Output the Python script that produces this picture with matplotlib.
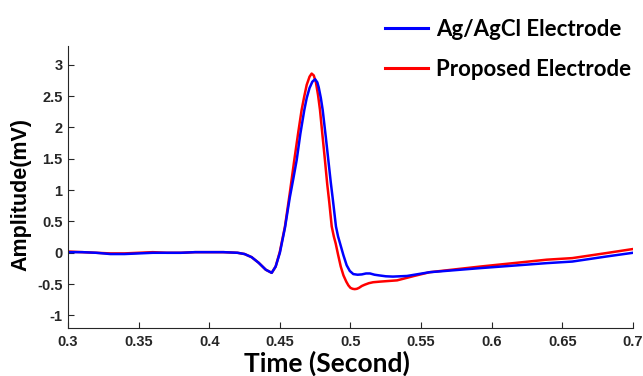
import matplotlib
matplotlib.use("Agg")
import matplotlib.pyplot as plt
from matplotlib.lines import Line2D

# Ag/AgCl reference electrode recording
t_agcl = [0.300, 0.310, 0.320, 0.330, 0.340, 0.350, 0.360, 0.370, 0.380, 0.390,
          0.400, 0.410, 0.420, 0.425, 0.430, 0.435, 0.440, 0.4442, 0.447, 0.450,
          0.4536, 0.457, 0.4595, 0.4619, 0.4645, 0.4673, 0.469, 0.471, 0.473,
          0.4749, 0.4765, 0.4775, 0.479, 0.4803, 0.4825, 0.4843, 0.486, 0.4875,
          0.4897, 0.4912, 0.4926, 0.495, 0.4973, 0.4995, 0.502, 0.505, 0.508,
          0.511, 0.5138, 0.517, 0.520, 0.525, 0.530, 0.540, 0.556, 0.5917,
          0.639, 0.657, 0.681, 0.700]
v_agcl = [0.01, 0.01, 0.00, -0.02, -0.02, -0.01, 0.00, 0.00, 0.00, 0.01,
          0.01, 0.01, 0.00, -0.02, -0.07, -0.16, -0.27, -0.32, -0.22, 0.00,
          0.40, 0.88, 1.18, 1.48, 1.90, 2.28, 2.47, 2.63, 2.73,
          2.77, 2.72, 2.64, 2.47, 2.28, 1.85, 1.48, 1.13, 0.85,
          0.42, 0.26, 0.15, -0.04, -0.20, -0.29, -0.34, -0.35, -0.345,
          -0.33, -0.33, -0.35, -0.36, -0.375, -0.38, -0.37, -0.31, -0.245,
          -0.165, -0.14, -0.06, 0.00]

# Proposed electrode recording
t_prop = [0.300, 0.310, 0.320, 0.330, 0.340, 0.350, 0.360, 0.370, 0.380, 0.390,
          0.400, 0.410, 0.420, 0.425, 0.430, 0.435, 0.440, 0.4442, 0.447, 0.450,
          0.4536, 0.457, 0.4602, 0.463, 0.4654, 0.4673, 0.469, 0.471, 0.4725,
          0.474, 0.4755, 0.477, 0.4784, 0.480, 0.4819, 0.4835, 0.485, 0.4867,
          0.4882, 0.4895, 0.4912, 0.4931, 0.495, 0.497, 0.4985, 0.500, 0.5015,
          0.503, 0.5045, 0.506, 0.508, 0.510, 0.513, 0.516, 0.521, 0.527,
          0.533, 0.545, 0.556, 0.5917, 0.639, 0.657, 0.681, 0.700]
v_prop = [0.02, 0.01, 0.00, -0.01, -0.01, 0.00, 0.01, 0.00, 0.00, 0.01,
          0.01, 0.01, 0.00, -0.02, -0.07, -0.16, -0.27, -0.32, -0.22, 0.02,
          0.42, 0.95, 1.48, 1.92, 2.28, 2.50, 2.68, 2.81, 2.86,
          2.83, 2.72, 2.52, 2.28, 1.91, 1.48, 1.10, 0.80, 0.42,
          0.26, 0.15, -0.03, -0.22, -0.36, -0.46, -0.52, -0.56, -0.575,
          -0.58, -0.575, -0.56, -0.53, -0.51, -0.485, -0.47, -0.46, -0.45,
          -0.44, -0.37, -0.31, -0.22, -0.11, -0.085, -0.005, 0.06]

x_ticks = [0.3, 0.35, 0.4, 0.45, 0.5, 0.55, 0.6, 0.65, 0.7]
x_tick_labels = ["0.3", "0.35", "0.4", "0.45", "0.5", "0.55", "0.6", "0.65", "0.7"]
y_ticks = [-1, -0.5, 0, 0.5, 1, 1.5, 2, 2.5, 3]
y_tick_labels = ["-1", "-0.5", "0", "0.5", "1", "1.5", "2", "2.5", "3"]

fig = plt.figure(figsize=(6.43, 3.76), dpi=100)
ax = fig.add_axes([0.1058, 0.1277, 0.8786, 0.75])

ax.plot(t_prop, v_prop, color=(1, 0, 0), lw=1.8, solid_joinstyle="round")
ax.plot(t_agcl, v_agcl, color=(0, 0, 1), lw=1.8, solid_joinstyle="round")

ax.set_xlim(0.3, 0.7)
ax.set_ylim(-1.2, 3.3)
ax.set_xticks(x_ticks)
ax.set_xticklabels(x_tick_labels)
ax.set_yticks(y_ticks)
ax.set_yticklabels(y_tick_labels)

for lab in ax.get_xticklabels() + ax.get_yticklabels():
    lab.set_fontfamily("Liberation Sans")
    lab.set_fontweight("bold")
    lab.set_fontsize(10.5)

ax.tick_params(direction="in", length=4, width=0.8, colors="#262626")
ax.tick_params(axis="x", pad=5)
ax.tick_params(axis="y", pad=4)
for side in ("top", "right"):
    ax.spines[side].set_visible(False)
for side in ("left", "bottom"):
    ax.spines[side].set_color("#262626")
    ax.spines[side].set_linewidth(0.8)

ax.set_xlabel("Time (Second)", family="Lato", weight="bold", fontsize=19,
              labelpad=1, x=0.458)
ax.set_ylabel("Amplitude(mV)", family="Liberation Sans", weight="bold",
              fontsize=15.5, labelpad=4, y=0.475)

handles = [Line2D([], [], color=(0, 0, 1), lw=2.2),
           Line2D([], [], color=(1, 0, 0), lw=2.2)]
fig.legend(handles, ["Ag/AgCl Electrode", "Proposed Electrode"],
           loc="upper left", bbox_to_anchor=(0.567, 1.003), frameon=False,
           prop=dict(family="Lato", weight="bold", size=16),
           handlelength=1.95, handletextpad=0.36, labelspacing=0.85)

fig.savefig("out.png", dpi=100, facecolor="white")
